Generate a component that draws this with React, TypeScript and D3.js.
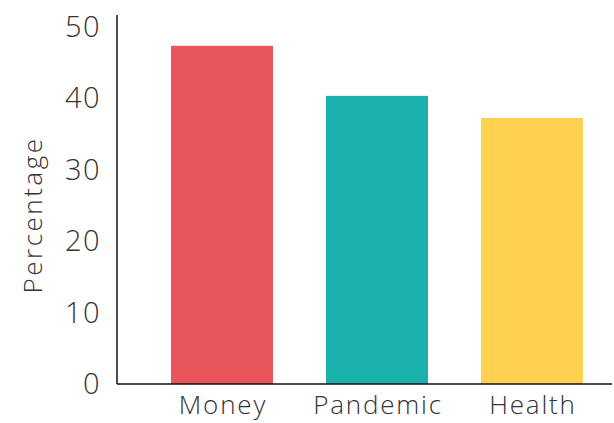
import { useMemo } from "react";
import { scaleBand, scaleLinear } from "d3";

const categories = ["Money", "Pandemic", "Health"];
const values = [47.3, 40.3, 37.2];
const colors = ["#E8565B", "#1AB0AB", "#FED24F"];
const yTicks = [0, 10, 20, 30, 40, 50];

const WIDTH = 614;
const HEIGHT = 423;
const AXIS_X = 117;
const AXIS_Y = 384;
const FONT = "'Open Sans', Lato, sans-serif";

export default function App() {
  const x = useMemo(
    () =>
      scaleBand<string>()
        .domain(categories)
        .range([144.5, 609.5])
        .paddingInner(0.342)
        .paddingOuter(0.171),
    []
  );
  const y = useMemo(() => scaleLinear().domain([0, 10]).range([AXIS_Y, AXIS_Y - 71.5]), []);

  return (
    <svg
      width={WIDTH}
      height={HEIGHT}
      style={{ position: "absolute", left: 0, top: 0 }}
      fontFamily={FONT}
    >
      <rect width={WIDTH} height={HEIGHT} fill="#fff" />
      {categories.map((c, i) => (
        <rect
          key={c}
          x={x(c)}
          y={y(values[i])}
          width={x.bandwidth()}
          height={AXIS_Y - y(values[i])}
          fill={colors[i]}
        />
      ))}
      {/* axes */}
      <line x1={AXIS_X} y1={15} x2={AXIS_X} y2={AXIS_Y} stroke="#111" strokeWidth={1.5} />
      <line x1={AXIS_X} y1={AXIS_Y} x2={612} y2={AXIS_Y} stroke="#111" strokeWidth={1.5} />
      {yTicks.map((t) => (
        <text
          key={t}
          x={101}
          y={y(t)}
          dy="0.36em"
          textAnchor="end"
          fontSize={29}
          fontWeight={300}
          letterSpacing={1.5}
          fill="#333"
        >
          {t}
        </text>
      ))}
      {categories.map((c) => (
        <text
          key={c}
          x={(x(c) ?? 0) + x.bandwidth() / 2 + 1}
          y={414}
          textAnchor="middle"
          fontSize={26}
          fontWeight={300}
          letterSpacing={1.8}
          fill="#333"
        >
          {c}
        </text>
      ))}
      <text
        transform={`translate(42,${(133 + 297) / 2}) rotate(-90)`}
        textAnchor="middle"
        fontSize={26}
        fontWeight={300}
        letterSpacing={2.5}
        fill="#333"
      >
        Percentage
      </text>
    </svg>
  );
}
